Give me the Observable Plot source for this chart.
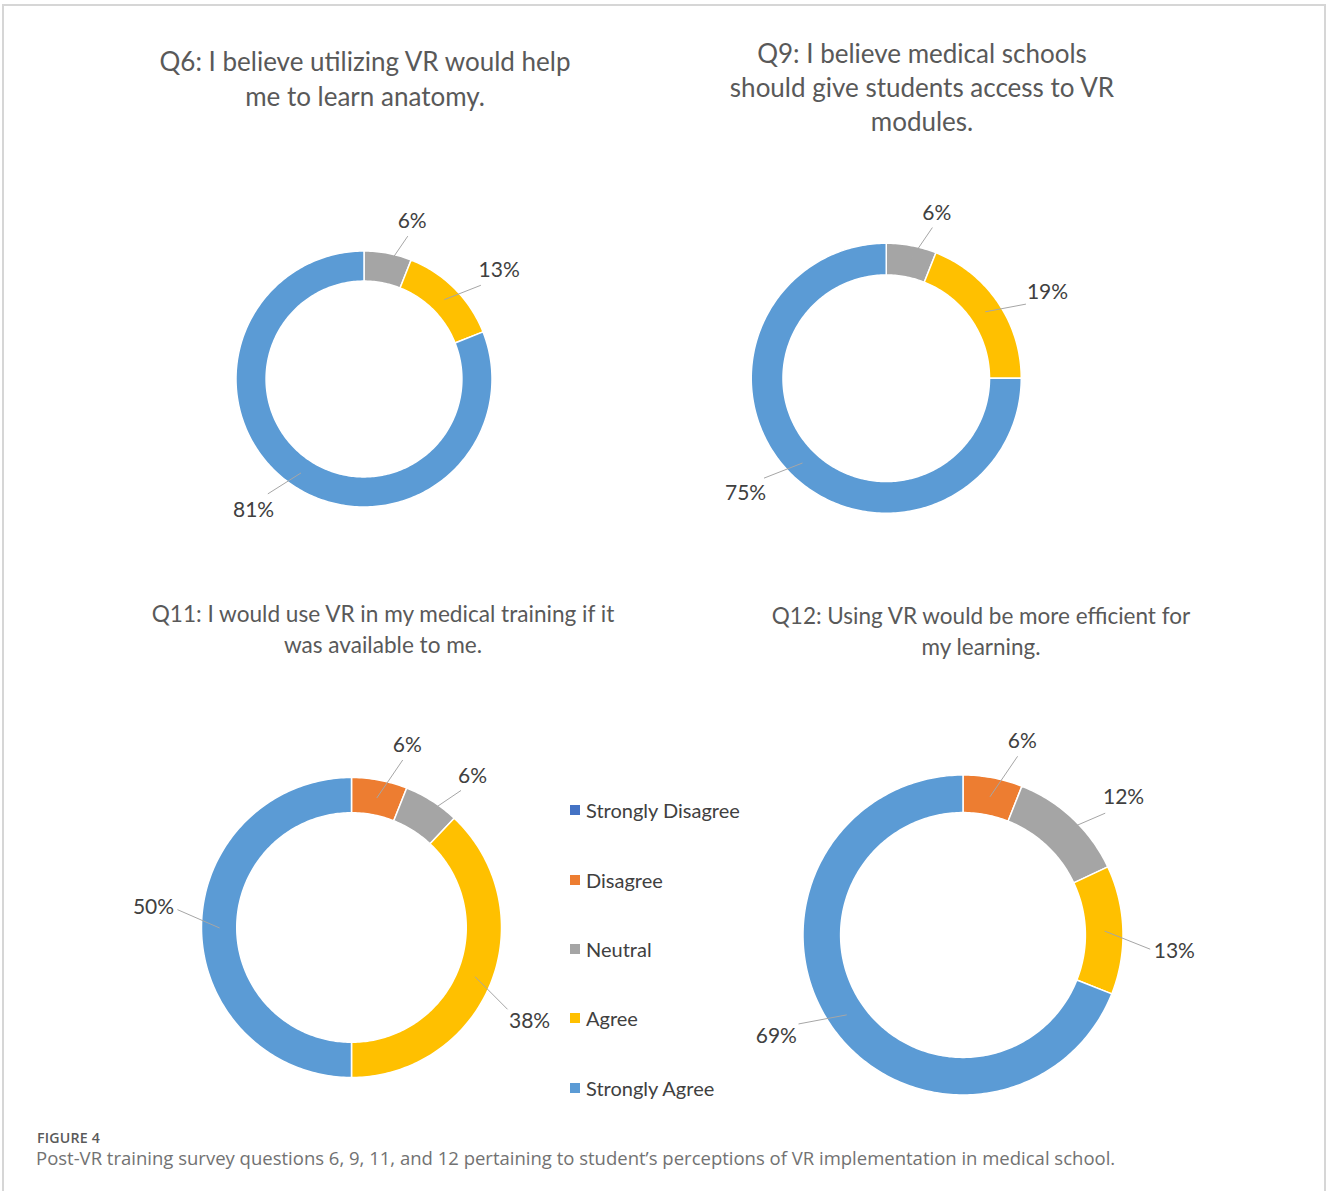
<!DOCTYPE html>
<html>
<head>
<meta charset="utf-8">
<script src="https://cdn.jsdelivr.net/npm/d3@7"></script>
<script src="https://cdn.jsdelivr.net/npm/@observablehq/plot@0.6"></script>
<style>
  html, body { margin: 0; padding: 0; background: #fff; }
  #fig { position: relative; width: 1328px; height: 1191px; overflow: hidden; font-family: Lato, "Open Sans", sans-serif; }
  #frame { position: absolute; left: 2px; top: 4px; width: 1324px; height: 1200px; border: 2px solid #d6d6d6; border-bottom: none; box-sizing: border-box; }
  .title { position: absolute; text-align: center; color: #595959; white-space: nowrap; transform: translateX(-50%); }
  .chart { position: absolute; }
  .legend-item { position: absolute; display: flex; align-items: center; color: #404040; font-size: 20px; white-space: nowrap; transform: translateY(-50%); }
  .legend-item .sw { width: 10px; height: 10px; margin-right: 6px; }
  .cap1 { position: absolute; left: 37px; top: 1130px; line-height: 16px; font-family: "Open Sans", sans-serif; font-size: 14.2px; font-weight: 600; color: #5a5a5a; letter-spacing: 0.2px; }
  .cap2 { position: absolute; left: 36px; top: 1147px; line-height: 22px; font-family: "Open Sans", sans-serif; font-size: 18.5px; color: #727272; white-space: nowrap; }
</style>
</head>
<body>
<div id="fig"><div id="frame"></div></div>
<script>
// ---- data ----
const categories = ["Strongly Disagree", "Disagree", "Neutral", "Agree", "Strongly Agree"];
const colors = ["#4472C4", "#ED7D31", "#A5A5A5", "#FFC000", "#5B9BD5"];

const q6Title = ["Q6: I believe utilizing VR would help", "me to learn anatomy."];
const q9Title = ["Q9: I believe medical schools", "should give students access to VR", "modules."];
const q11Title = ["Q11: I would use VR in my medical training if it", "was available to me."];
const q12Title = ["Q12: Using VR would be more efficient for", "my learning."];

const q6Values = [0, 0, 6, 13, 81];
const q9Values = [0, 0, 6, 19, 75];
const q11Values = [0, 6, 6, 38, 50];
const q12Values = [0, 6, 12, 13, 69];

const captionLabel = "FIGURE 4";
const captionText = "Post-VR training survey questions 6, 9, 11, and 12 pertaining to student\u2019s perceptions of VR implementation in medical school.";

// ---- layout ----
const layout = [
  {values: q6Values, title: q6Title, cx: 364, cy: 378.5, R: 128, tx: 365, ty: 44, fs: 26, lh: 35},
  {values: q9Values, title: q9Title, cx: 886, cy: 378.5, R: 135, tx: 922, ty: 36, fs: 26, lh: 34},
  {values: q11Values, title: q11Title, cx: 351.5, cy: 927, R: 150, tx: 383, ty: 599, fs: 22.6, lh: 30.5},
  {values: q12Values, title: q12Title, cx: 963, cy: 934.5, R: 160, tx: 981, ty: 601, fs: 22.5, lh: 30.5}
];
const innerRatio = 0.765;
const labelSize = 21;
const labelTurn = 6 * Math.PI / 180;
const k = 1.75;

const fig = document.getElementById("fig");

function donut(cfg) {
  const rows = categories.map((c, i) => ({category: c, value: cfg.values[i]}));
  const arcs = d3.pie().value(d => d.value).sort(null)(rows).filter(p => p.data.value > 0);
  const ring = arcs.flatMap(p => {
    const span = p.endAngle - p.startAngle;
    const n = Math.max(2, Math.ceil(span / (Math.PI / 180)) + 1);
    return d3.range(n).map(j => {
      const t = p.startAngle + span * j / (n - 1);
      return {category: p.data.category, x1: Math.sin(t), y1: Math.cos(t), x2: innerRatio * Math.sin(t), y2: innerRatio * Math.cos(t)};
    });
  });
  const labels = arcs.map(p => {
    const tm = (p.startAngle + p.endAngle) / 2;
    const t = tm + labelTurn;
    const s = Math.sin(t), c = Math.cos(t);
    const text = p.data.value + "%";
    const w = text.length * 0.6 * labelSize, h = 0.75 * labelSize;
    const ext = (Math.abs(s) * w / 2 + Math.abs(c) * h / 2) / cfg.R;
    const rl = 1.2 + ext;
    const rm = (1 + innerRatio) / 2;
    return {text, x: rl * s, y: rl * c, lx1: rm * Math.sin(tm), ly1: rm * Math.cos(tm), lx2: 1.17 * s, ly2: 1.17 * c};
  });
  const S = 2 * k * cfg.R;
  const chart = Plot.plot({
    width: S, height: S, margin: 0,
    x: {domain: [-k, k], axis: null},
    y: {domain: [-k, k], axis: null},
    color: {domain: categories, range: colors},
    style: {background: "transparent", overflow: "visible"},
    marks: [
      Plot.area(ring, {x1: "x1", y1: "y1", x2: "x2", y2: "y2", z: "category", fill: "category", stroke: "white", strokeWidth: 1.5, curve: "linear"}),
      Plot.link(labels, {x1: "lx1", y1: "ly1", x2: "lx2", y2: "ly2", stroke: "#a6a6a6", strokeWidth: 1}),
      Plot.text(labels, {x: "x", y: "y", text: "text", fontSize: labelSize, fill: "#404040", fontFamily: "Lato, sans-serif"})
    ]
  });
  const holder = document.createElement("div");
  holder.className = "chart";
  holder.style.left = (cfg.cx - S / 2) + "px";
  holder.style.top = (cfg.cy - S / 2) + "px";
  holder.style.width = S + "px";
  holder.style.height = S + "px";
  holder.appendChild(chart);
  fig.appendChild(holder);

  const t = document.createElement("div");
  t.className = "title";
  t.style.left = cfg.tx + "px";
  t.style.top = cfg.ty + "px";
  t.style.fontSize = cfg.fs + "px";
  t.style.lineHeight = cfg.lh + "px";
  t.innerHTML = cfg.title.join("<br>");
  fig.appendChild(t);
}

layout.forEach(donut);

// legend
const legendY = [810, 880, 949, 1018, 1088];
categories.forEach((c, i) => {
  const item = document.createElement("div");
  item.className = "legend-item";
  item.style.left = "570px";
  item.style.top = legendY[i] + "px";
  item.innerHTML = `<span class="sw" style="background:${colors[i]}"></span><span>${c}</span>`;
  fig.appendChild(item);
});

// caption
const c1 = document.createElement("div");
c1.className = "cap1"; c1.textContent = captionLabel; fig.appendChild(c1);
const c2 = document.createElement("div");
c2.className = "cap2"; c2.textContent = captionText; fig.appendChild(c2);
</script>
</body>
</html>
